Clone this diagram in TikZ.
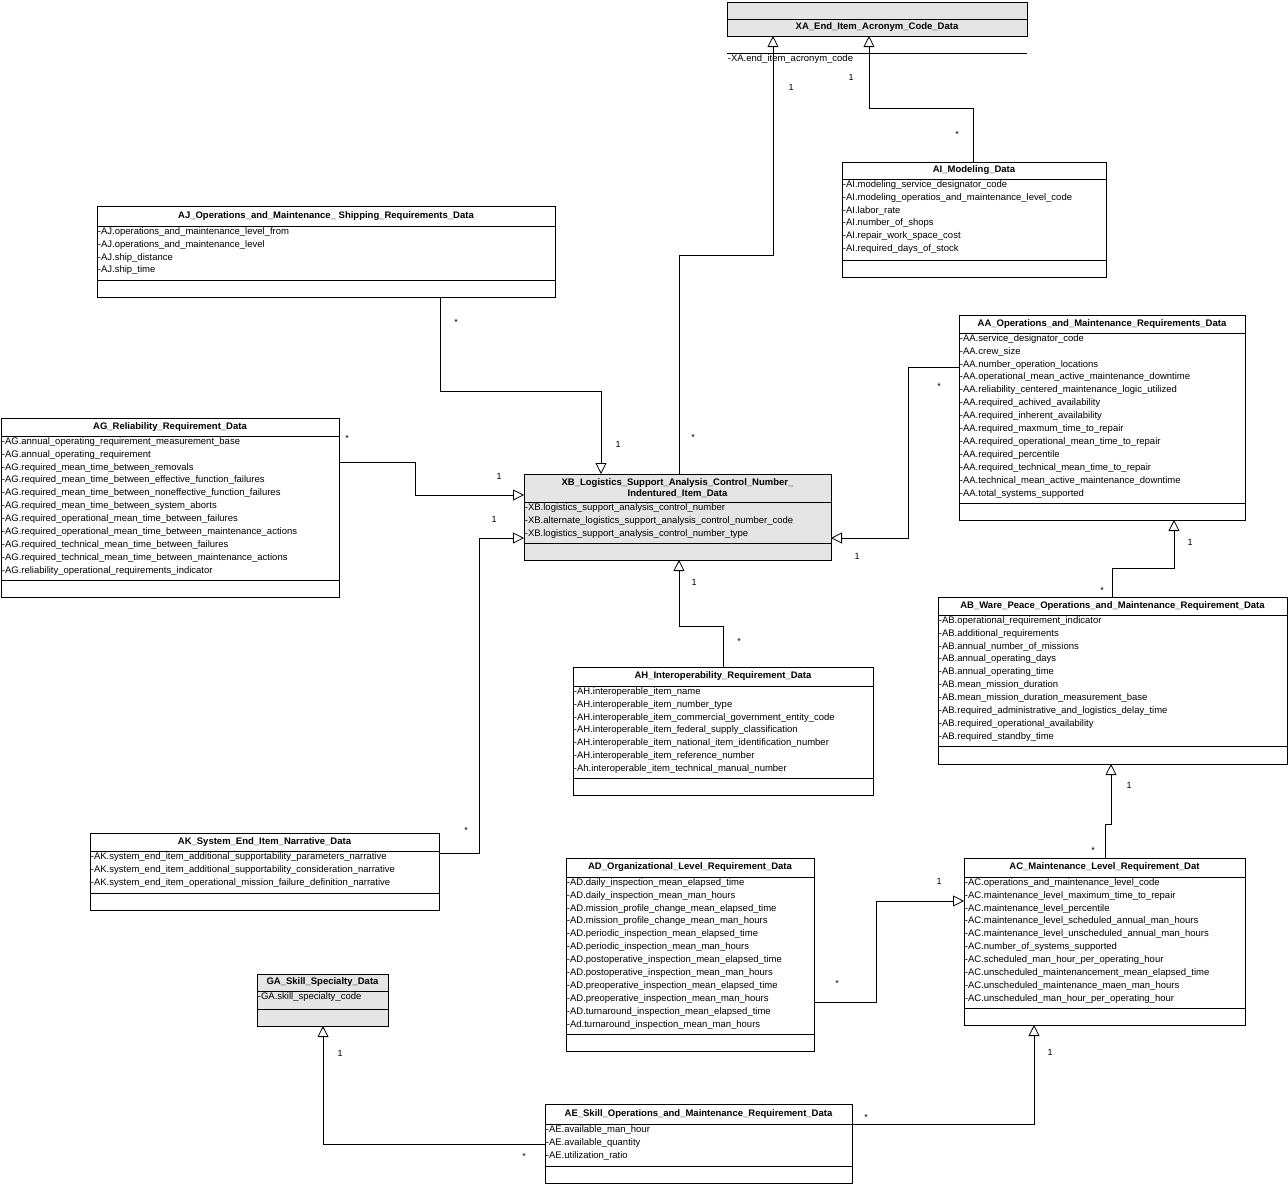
\documentclass[tikz,border=0pt]{standalone}
\usepackage{fontspec}
\setmainfont{Liberation Sans}
\usetikzlibrary{arrows.meta}

% class box: name, fill, left, top, right, title bottom, attribute bottom, bottom, title
\newcommand\umlclass[9]{%
  \node[draw,fill=#2,anchor=north west,inner sep=0,outer sep=0,
        minimum width={(#5-#3)*1pt},minimum height={(#8-#4)*1pt}] (#1) at (#3,#4) {};
  \draw (#3,#6) -- (#5,#6);
  \draw (#3,#7) -- (#5,#7);
  \node[title] (#1-title) at ({(#3+#5)/2},{(#4+#6)/2}) {#9};
  \coordinate (#1-a) at (#3,#6+0.5);
}

\begin{document}
\begin{tikzpicture}[x=1pt,y=-1pt,line width=0.8pt]
  % Colors
  \colorlet{keycolor}{black!10}

  % Styles
  \tikzset{
    title/.style={font=\fontsize{9.5}{11}\selectfont\bfseries,align=center,inner sep=0},
    attrs/.style={font=\fontsize{9.5}{12.9}\selectfont,align=left,anchor=north west,inner sep=0.5pt},
    inherit/.style={-{Triangle[open,length=11pt,width=11pt]}},
    mult/.style={font=\fontsize{9}{10}\selectfont,inner sep=0}
  }

  \useasboundingbox (0,0) rectangle (1288,1184);

  \umlclass{XA}{keycolor}{727}{2}{1027}{53}{19}{36}{XA\_End\_Item\_Acronym\_Code\_Data}
  \node[attrs] (XA-attrs) at (XA-a) {-XA.end\_item\_acronym\_code};

  \umlclass{AI}{white}{842}{162}{1106}{179}{260}{277}{AI\_Modeling\_Data}
  \node[attrs] (AI-attrs) at (AI-a) {-AI.modeling\_service\_designator\_code\\
    -AI.modeling\_operatios\_and\_maintenance\_level\_code\\-AI.labor\_rate\\
    -AI.number\_of\_shops\\-AI.repair\_work\_space\_cost\\-AI.required\_days\_of\_stock};

  \umlclass{AJ}{white}{97}{206}{555}{226}{280}{297}{AJ\_Operations\_and\_Maintenance\_ Shipping\_Requirements\_Data}
  \node[attrs] (AJ-attrs) at (AJ-a) {-AJ.operations\_and\_maintenance\_level\_from\\
    -AJ.operations\_and\_maintenance\_level\\-AJ.ship\_distance\\-AJ.ship\_time};

  \umlclass{AA}{white}{959}{315}{1245}{333}{503}{520}{AA\_Operations\_and\_Maintenance\_Requirements\_Data}
  \node[attrs] (AA-attrs) at (AA-a) {-AA.service\_designator\_code\\-AA.crew\_size\\
    -AA.number\_operation\_locations\\-AA.operational\_mean\_active\_maintenance\_downtime\\
    -AA.reliability\_centered\_maintenance\_logic\_utilized\\-AA.required\_achived\_availability\\
    -AA.required\_inherent\_availability\\-AA.required\_maxmum\_time\_to\_repair\\
    -AA.required\_operational\_mean\_time\_to\_repair\\-AA.required\_percentile\\
    -AA.required\_technical\_mean\_time\_to\_repair\\-AA.technical\_mean\_active\_maintenance\_downtime\\
    -AA.total\_systems\_supported};

  \umlclass{AG}{white}{1}{418}{339}{436}{580}{597}{AG\_Reliability\_Requirement\_Data}
  \node[attrs] (AG-attrs) at (AG-a) {-AG.annual\_operating\_requirement\_measurement\_base\\
    -AG.annual\_operating\_requirement\\-AG.required\_mean\_time\_between\_removals\\
    -AG.required\_mean\_time\_between\_effective\_function\_failures\\
    -AG.required\_mean\_time\_between\_noneffective\_function\_failures\\
    -AG.required\_mean\_time\_between\_system\_aborts\\
    -AG.required\_operational\_mean\_time\_between\_failures\\
    -AG.required\_operational\_mean\_time\_between\_maintenance\_actions\\
    -AG.required\_technical\_mean\_time\_between\_failures\\
    -AG.required\_technical\_mean\_time\_between\_maintenance\_actions\\
    -AG.reliability\_operational\_requirements\_indicator};

  \umlclass{XB}{keycolor}{524}{474}{831}{502}{543}{560}{XB\_Logistics\_Support\_Analysis\_Control\_Number\_\\Indentured\_Item\_Data}
  \node[attrs] (XB-attrs) at (XB-a) {-XB.logistics\_support\_analysis\_control\_number\\
    -XB.alternate\_logistics\_support\_analysis\_control\_number\_code\\
    -XB.logistics\_support\_analysis\_control\_number\_type};

  \umlclass{AH}{white}{573}{667}{873}{686}{778}{795}{AH\_Interoperability\_Requirement\_Data}
  \node[attrs] (AH-attrs) at (AH-a) {-AH.interoperable\_item\_name\\-AH.interoperable\_item\_number\_type\\
    -AH.interoperable\_item\_commercial\_government\_entity\_code\\
    -AH.interoperable\_item\_federal\_supply\_classification\\
    -AH.interoperable\_item\_national\_item\_identification\_number\\
    -AH.interoperable\_item\_reference\_number\\-Ah.interoperable\_item\_technical\_manual\_number};

  \umlclass{AB}{white}{938}{597}{1287}{615}{746}{764}{AB\_Ware\_Peace\_Operations\_and\_Maintenance\_Requirement\_Data}
  \node[attrs] (AB-attrs) at (AB-a) {-AB.operational\_requirement\_indicator\\-AB.additional\_requirements\\
    -AB.annual\_number\_of\_missions\\-AB.annual\_operating\_days\\-AB.annual\_operating\_time\\
    -AB.mean\_mission\_duration\\-AB.mean\_mission\_duration\_measurement\_base\\
    -AB.required\_administrative\_and\_logistics\_delay\_time\\
    -AB.required\_operational\_availability\\-AB.required\_standby\_time};

  \umlclass{AK}{white}{90}{833}{439}{851}{893}{910}{AK\_System\_End\_Item\_Narrative\_Data}
  \node[attrs] (AK-attrs) at (AK-a) {-AK.system\_end\_item\_additional\_supportability\_parameters\_narrative\\
    -AK.system\_end\_item\_additional\_supportability\_consideration\_narrative\\
    -AK.system\_end\_item\_operational\_mission\_failure\_definition\_narrative};

  \umlclass{AD}{white}{566}{858}{814}{877}{1034}{1051}{AD\_Organizational\_Level\_Requirement\_Data}
  \node[attrs] (AD-attrs) at (AD-a) {-AD.daily\_inspection\_mean\_elapsed\_time\\
    -AD.daily\_inspection\_mean\_man\_hours\\-AD.mission\_profile\_change\_mean\_elapsed\_time\\
    -AD.mission\_profile\_change\_mean\_man\_hours\\-AD.periodic\_inspection\_mean\_elapsed\_time\\
    -AD.periodic\_inspection\_mean\_man\_hours\\-AD.postoperative\_inspection\_mean\_elapsed\_time\\
    -AD.postoperative\_inspection\_mean\_man\_hours\\-AD.preoperative\_inspection\_mean\_elapsed\_time\\
    -AD.preoperative\_inspection\_mean\_man\_hours\\-AD.turnaround\_inspection\_mean\_elapsed\_time\\
    -Ad.turnaround\_inspection\_mean\_man\_hours};

  \umlclass{AC}{white}{964}{858}{1245}{877}{1008}{1025}{AC\_Maintenance\_Level\_Requirement\_Dat}
  \node[attrs] (AC-attrs) at (AC-a) {-AC.operations\_and\_maintenance\_level\_code\\
    -AC.maintenance\_level\_maximum\_time\_to\_repair\\-AC.maintenance\_level\_percentile\\
    -AC.maintenance\_level\_scheduled\_annual\_man\_hours\\
    -AC.maintenance\_level\_unscheduled\_annual\_man\_hours\\-AC.number\_of\_systems\_supported\\
    -AC.scheduled\_man\_hour\_per\_operating\_hour\\
    -AC.unscheduled\_maintenancement\_mean\_elapsed\_time\\
    -AC.unscheduled\_maintenance\_maen\_man\_hours\\-AC.unscheduled\_man\_hour\_per\_operating\_hour};

  \umlclass{GA}{keycolor}{257}{974}{388}{991}{1009}{1026}{GA\_Skill\_Specialty\_Data}
  \node[attrs] (GA-attrs) at (GA-a) {-GA.skill\_specialty\_code};

  \umlclass{AE}{white}{545}{1104}{852}{1124}{1166}{1183}{AE\_Skill\_Operations\_and\_Maintenance\_Requirement\_Data}
  \node[attrs] (AE-attrs) at (AE-a) {-AE.available\_man\_hour\\-AE.available\_quantity\\-AE.utilization\_ratio};

  % Generalizations
  \draw[inherit] (679,0 |- XB.north) -- (679,255) -- (773,255) -- (773,0 |- XA.south);
  \draw[inherit] (973,0 |- AI.north) -- (973,108) -- (869,108) -- (869,0 |- XA.south);
  \draw[inherit] (440,0 |- AJ.south) -- (440,391) -- (601,391) -- (601,0 |- XB.north);
  \draw[inherit] (AG.east |- 0,462) -- (415,462) -- (415,495) -- (XB.west |- 0,495);
  \draw[inherit] (AK.east |- 0,853) -- (479,853) -- (479,538) -- (XB.west |- 0,538);
  \draw[inherit] (AA.west |- 0,367) -- (908,367) -- (908,538) -- (XB.east |- 0,538);
  \draw[inherit] (723,0 |- AH.north) -- (723,626) -- (679,626) -- (679,0 |- XB.south);
  \draw[inherit] (1112,0 |- AB.north) -- (1112,568) -- (1174,568) -- (1174,0 |- AA.south);
  \draw[inherit] (1105,0 |- AC.north) -- (1105,824) -- (1111,824) -- (1111,0 |- AB.south);
  \draw[inherit] (AD.east |- 0,1002) -- (876,1002) -- (876,901) -- (AC.west |- 0,901);
  \draw[inherit] (AE.west |- 0,1144) -- (323,1144) -- (323,0 |- GA.south);
  \draw[inherit] (AE.east |- 0,1124) -- (1034,1124) -- (1034,0 |- AC.south);

  % Multiplicities
  \foreach \x/\y/\m in {791/87/1, 693/437/*, 851/77/1, 957/134/*, 456/322/*, 618/444/1,
      347/438/*, 499/476/1, 466/830/*, 494/519/1, 939/386/*, 857/556/1, 739/641/*, 694/582/1,
      1102/590/*, 1190/542/1, 1093/850/*, 1129/785/1, 837/983/*, 939/881/1, 524/1156/*,
      340/1053/1, 866/1117/*, 1050/1052/1}
    \node[mult] at (\x,\y) {\m};
\end{tikzpicture}
\end{document}
